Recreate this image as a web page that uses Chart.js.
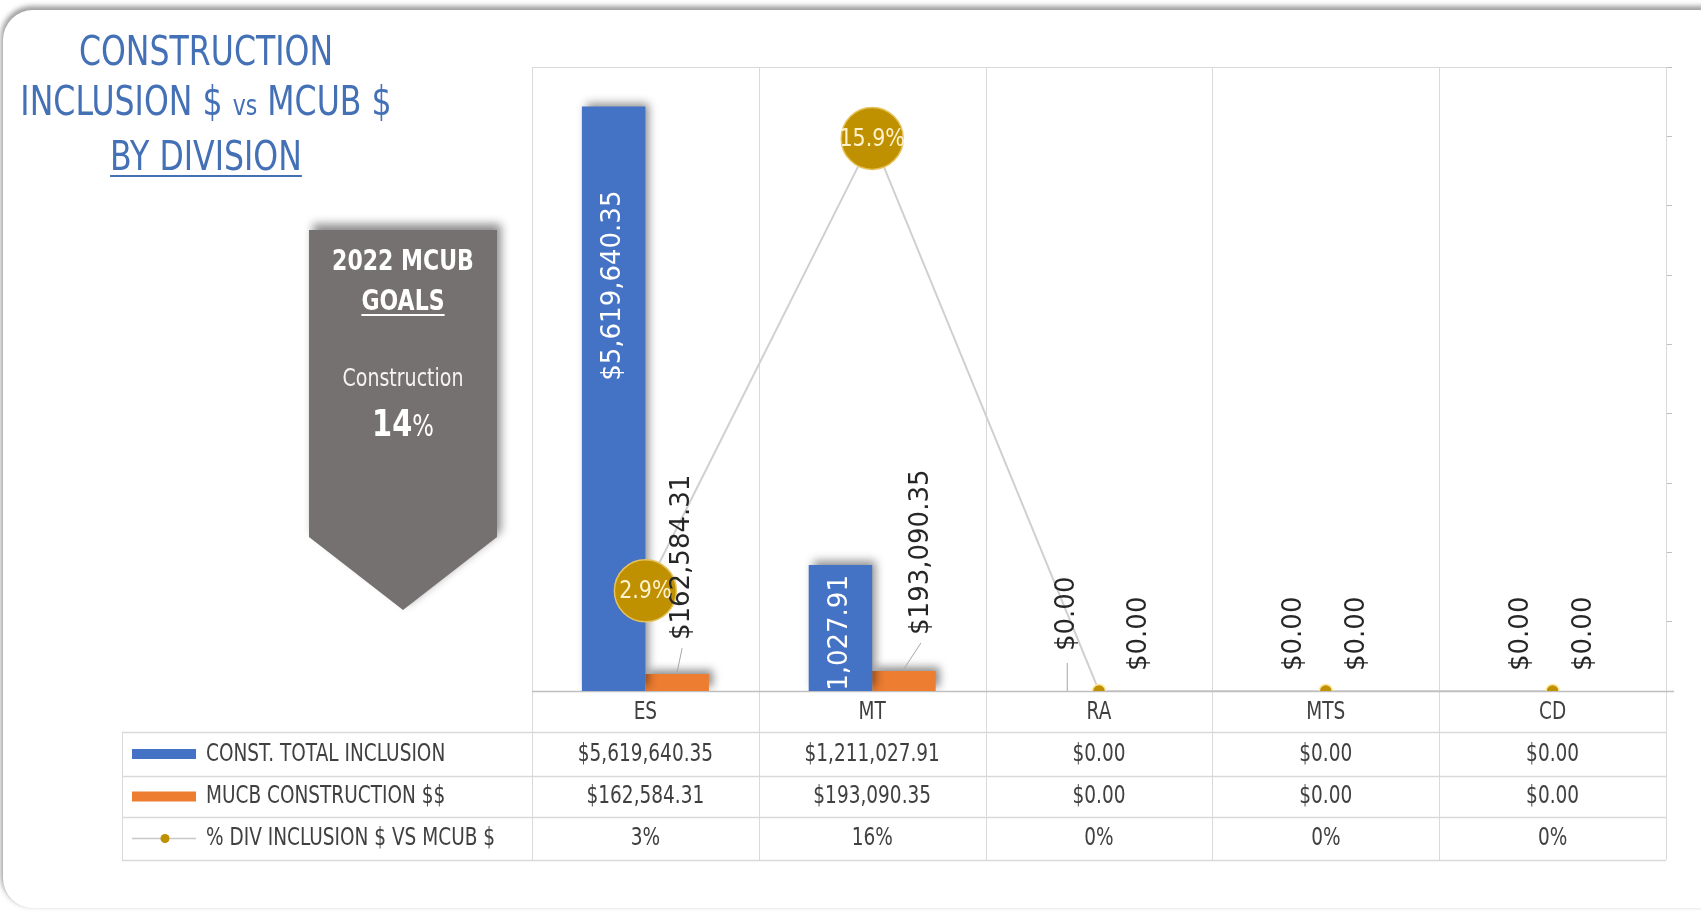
<!DOCTYPE html>
<html><head><meta charset="utf-8">
<script src="https://cdn.jsdelivr.net/npm/chart.js@4.4.0/dist/chart.umd.min.js"></script>
<style>
html,body{margin:0;padding:0;background:#fff;width:1701px;height:916px;overflow:hidden;}
#card{position:absolute;left:3px;top:10px;width:1760px;height:898px;border-radius:30px;background:#fff;box-shadow:-1px -3px 5px 1px rgba(80,80,80,0.55);}
#title{position:absolute;left:-54px;top:26px;width:520px;text-align:center;font-family:"DejaVu Sans",sans-serif;font-size:40px;line-height:50px;color:#4470b6;transform:scaleX(0.79);transform-origin:260px 0;white-space:nowrap;}
#title .vs{font-size:28px;}
#title u{text-decoration-thickness:2px;text-underline-offset:5px;}
#bannerWrap{position:absolute;left:309px;top:230px;width:188px;height:380px;filter:drop-shadow(4px -6px 5px rgba(0,0,0,0.45));}
#banner{width:100%;height:100%;background:#767171;clip-path:polygon(0 0,100% 0,100% 80.8%,50% 100%,0 80.8%);position:relative;}
.bt{position:absolute;left:-20px;width:228px;text-align:center;color:#fff;font-family:"DejaVu Sans",sans-serif;white-space:nowrap;transform:scaleX(0.76);transform-origin:114px 0;}
#chart{position:absolute;left:0;top:0;}
</style></head>
<body>
<div id="card"></div>
<div id="title">CONSTRUCTION<br>INCLUSION $ <span class="vs">vs</span> MCUB $<br><u>BY DIVISION</u></div>
<div id="bannerWrap"><div id="banner">
<div class="bt" style="top:12px;font-size:29px;font-weight:bold;line-height:36px;">2022 MCUB</div>
<div class="bt" style="top:52px;font-size:29px;font-weight:bold;line-height:36px;"><u style="text-underline-offset:4px;">GOALS</u></div>
<div class="bt" style="top:131px;font-size:25px;line-height:34px;color:#f4f4f4;">Construction</div>
<div class="bt" style="top:170px;font-size:38px;font-weight:bold;line-height:46px;">14<span style="font-size:30px;font-weight:normal;">%</span></div>
</div></div>
<canvas id="chart" width="1701" height="916"></canvas>
<script>
// ---- data ----
const categories = ['ES', 'MT', 'RA', 'MTS', 'CD'];
const totalInclusion = [5619640.35, 1211027.91, 0, 0, 0];
const mucbConstruction = [162584.31, 193090.35, 0, 0, 0];
const pctInclusion = [0.0289, 0.1594, 0, 0, 0];
const seriesNames = ['CONST. TOTAL INCLUSION', 'MUCB CONSTRUCTION $$', '% DIV INCLUSION $ VS MCUB $'];
const leftAxisMax = 6000000;
const rightAxisMax = 0.18;
const rightAxisStep = 0.02;

// ---- style ----
const BLUE = '#4472c4', ORANGE = '#ed7d31', GOLD = '#bf9000', GRID = '#d9d9d9';
const blueInset = [84, 10, 0, 0, 0];
const blueGap = [0, 0, 40, 20, 20];
const orangeGap = [34, 36, 20, 20, 20];
const orangeDx = [5, 17, 8, 0, 0];
const rowEdges = [0, 41, 85, 126, 169];
const tableLeft = 122;
const FONT = '"DejaVu Sans", sans-serif';
const LABEL_SIZE = 26;

const money = v => '$' + v.toLocaleString('en-US', {minimumFractionDigits: 2, maximumFractionDigits: 2});

function txt(ctx, s, x, y, size, color, align, sx, weight) {
  ctx.save();
  ctx.translate(x, y);
  ctx.scale(sx, 1);
  ctx.font = (weight || 'normal') + ' ' + size + 'px ' + FONT;
  ctx.fillStyle = color;
  ctx.textAlign = align;
  ctx.textBaseline = 'middle';
  ctx.fillText(s, 0, 0);
  ctx.restore();
}
function vtxt(ctx, s, x, y, size, color, align) {
  ctx.save();
  ctx.translate(x, y);
  ctx.rotate(-Math.PI / 2);
  ctx.font = size + 'px ' + FONT;
  ctx.fillStyle = color;
  ctx.textAlign = align;
  ctx.textBaseline = 'middle';
  ctx.fillText(s, 0, 0);
  ctx.restore();
}
function line(ctx, x1, y1, x2, y2, c, w) {
  ctx.save(); ctx.strokeStyle = c; ctx.lineWidth = w || 1;
  ctx.beginPath(); ctx.moveTo(x1, y1); ctx.lineTo(x2, y2); ctx.stroke(); ctx.restore();
}

const gridPlugin = {
  id: 'gridTable',
  beforeDatasetsDraw(chart) {
    const ctx = chart.ctx, a = chart.chartArea, xs = chart.scales.x;
    const bottom = a.bottom + rowEdges[rowEdges.length - 1];
    line(ctx, a.left, a.top + 0.5, a.right, a.top + 0.5, GRID);
    const n = categories.length;
    for (let i = 0; i <= n; i++) {
      let x;
      if (i === 0) x = a.left; else if (i === n) x = a.right;
      else x = (xs.getPixelForTick(i - 1) + xs.getPixelForTick(i)) / 2;
      line(ctx, Math.round(x) + 0.5, a.top, Math.round(x) + 0.5, bottom, GRID);
    }
    line(ctx, tableLeft + 0.5, a.bottom + rowEdges[1], tableLeft + 0.5, bottom, GRID);
    for (let r = 1; r < rowEdges.length; r++) {
      const y = Math.round(a.bottom + rowEdges[r]) + 0.5;
      line(ctx, tableLeft, y, a.right, y, GRID, 1.5);
    }
    line(ctx, a.left, a.bottom + 0.5, a.right + 8, a.bottom + 0.5, '#bfbfbf', 1.5);
  },
  afterDraw(chart) {
    const ctx = chart.ctx, a = chart.chartArea, xs = chart.scales.x;
    const mid = r => a.bottom + (rowEdges[r] + rowEdges[r + 1]) / 2;
    const tc = '#404040';
    categories.forEach((c, i) => {
      const x = xs.getPixelForTick(i);
      txt(ctx, c, x, mid(0) + 1, 25, tc, 'center', 0.74);
      txt(ctx, money(totalInclusion[i]), x, mid(1), 25, tc, 'center', 0.74);
      txt(ctx, money(mucbConstruction[i]), x, mid(2), 25, tc, 'center', 0.74);
      txt(ctx, Math.round(pctInclusion[i] * 100) + '%', x, mid(3), 25, tc, 'center', 0.74);
    });
    // legend keys
    ctx.fillStyle = BLUE; ctx.fillRect(132, mid(1) - 5, 64, 10);
    ctx.fillStyle = ORANGE; ctx.fillRect(132, mid(2) - 5, 64, 10);
    line(ctx, 132, mid(3), 196, mid(3), '#c8c8c8', 1.5);
    ctx.beginPath(); ctx.arc(165, mid(3), 4.5, 0, Math.PI * 2); ctx.fillStyle = GOLD; ctx.fill();
    seriesNames.forEach((s, k) => txt(ctx, s, 206, mid(k + 1), 25, tc, 'left', 0.74));
  }
};

const shadowPlugin = {
  id: 'barShadow',
  beforeDatasetDraw(chart, args) {
    if (chart.data.datasets[args.index].type !== 'bar') return;
    const ctx = chart.ctx;
    ctx.save();
    ctx.shadowColor = 'rgba(0,0,0,0.45)';
    ctx.shadowBlur = 9;
    ctx.shadowOffsetX = 4;
    ctx.shadowOffsetY = -4;
  },
  afterDatasetDraw(chart, args) {
    if (chart.data.datasets[args.index].type !== 'bar') return;
    chart.ctx.restore();
  }
};

const labelPlugin = {
  id: 'valueLabels',
  afterDatasetsDraw(chart) {
    const ctx = chart.ctx, a = chart.chartArea;
    const m0 = chart.getDatasetMeta(0), m1 = chart.getDatasetMeta(1), m2 = chart.getDatasetMeta(2);
    ctx.save();
    ctx.beginPath(); ctx.rect(a.left, a.top, a.right - a.left, a.bottom - a.top); ctx.clip();
    categories.forEach((c, i) => {
      const b = m0.data[i];
      if (totalInclusion[i] > 0) {
        vtxt(ctx, money(totalInclusion[i]), b.x, b.y + blueInset[i], LABEL_SIZE, '#ffffff', 'right');
      } else {
        const y0 = b.y - blueGap[i];
        vtxt(ctx, money(totalInclusion[i]), b.x, y0, LABEL_SIZE, '#262626', 'left');
        if (blueGap[i] > 25) line(ctx, b.x, a.bottom, b.x, y0 + 12, '#a6a6a6', 1);
      }
      const o = m1.data[i];
      const oy = o.y - orangeGap[i];
      vtxt(ctx, money(mucbConstruction[i]), o.x + orangeDx[i], oy, LABEL_SIZE, '#262626', 'left');
      if (orangeGap[i] > 25) line(ctx, o.x, o.y - 2, o.x + orangeDx[i], oy + 8, '#a6a6a6', 1);
    });
    ctx.restore();
    categories.forEach((c, i) => {
      const p = m2.data[i];
      if (p.options.radius > 10) {
        txt(ctx, (pctInclusion[i] * 100).toFixed(1) + '%', p.x, p.y + 1, 24, '#fff2cc', 'center', 0.86);
      }
    });
  }
};

new Chart(document.getElementById('chart'), {
  data: {
    labels: categories,
    datasets: [
      {type: 'bar', label: seriesNames[0], data: totalInclusion, backgroundColor: BLUE, yAxisID: 'y', order: 2,
       categoryPercentage: 0.56, barPercentage: 1.0},
      {type: 'bar', label: seriesNames[1], data: mucbConstruction, backgroundColor: ORANGE, yAxisID: 'y', order: 2,
       categoryPercentage: 0.56, barPercentage: 1.0},
      {type: 'line', label: seriesNames[2], data: pctInclusion, yAxisID: 'y1', order: 0,
       borderColor: '#d0d0d0', borderWidth: 2, tension: 0,
       pointRadius: [31, 31, 6.5, 6.5, 6.5], pointBackgroundColor: GOLD,
       pointBorderColor: ['#e6c25a', '#e6c25a', '#ffe699', '#ffe699', '#ffe699'], pointBorderWidth: 1.5}
    ]
  },
  options: {
    responsive: false,
    animation: false,
    devicePixelRatio: 1,
    layout: {padding: {left: 532, top: 67, right: 23, bottom: 225}},
    plugins: {legend: {display: false}, tooltip: {enabled: false}, title: {display: false}},
    scales: {
      x: {type: 'category', display: false, offset: true},
      y: {display: false, min: 0, max: leftAxisMax},
      y1: {display: true, position: 'right', min: 0, max: rightAxisMax,
           ticks: {display: false, stepSize: rightAxisStep},
           grid: {drawOnChartArea: false, drawTicks: true, tickLength: 6, color: '#bfbfbf'},
           border: {display: false},
           afterFit: s => { s.width = 12; }}
    }
  },
  plugins: [gridPlugin, shadowPlugin, labelPlugin]
});
</script>
</body></html>
